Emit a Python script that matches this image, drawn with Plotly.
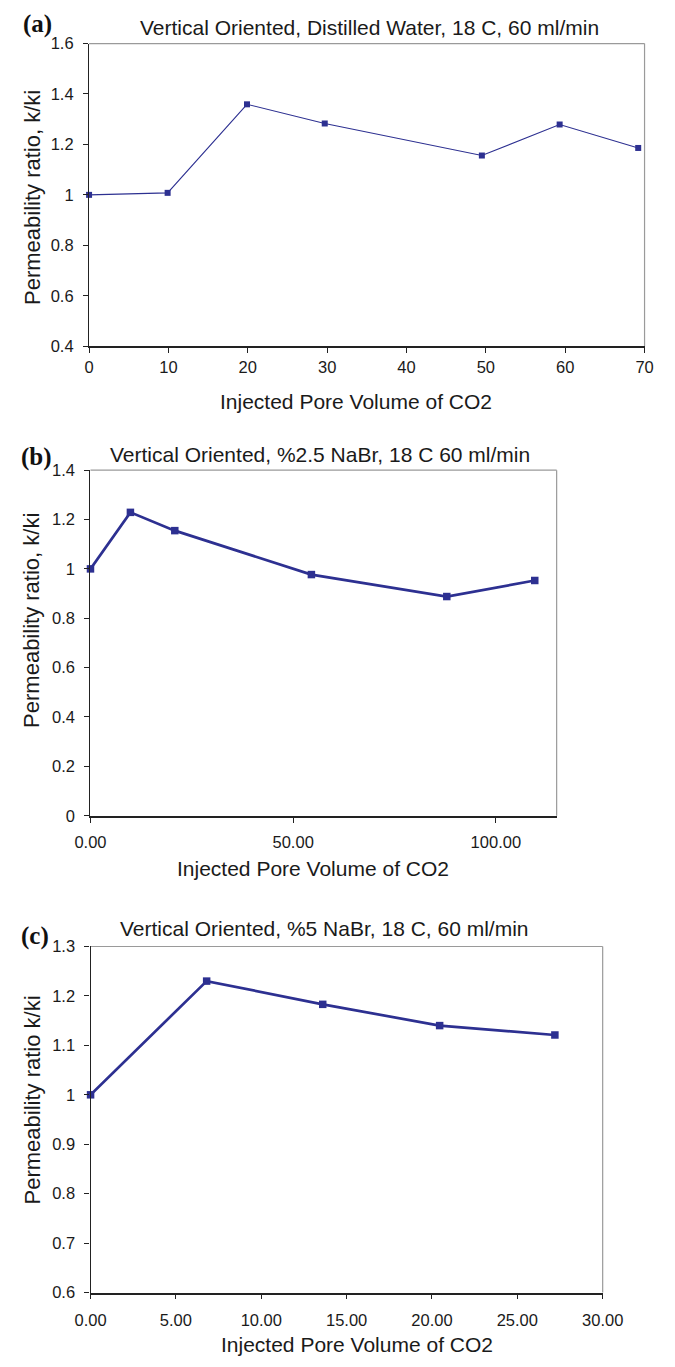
import plotly.graph_objects as go

# ---- data ----
a_x = [0, 9.9, 19.9, 29.7, 49.5, 59.3, 69.2]
a_y = [1.0, 1.008, 1.359, 1.283, 1.156, 1.279, 1.186]

b_x = [0, 9.85, 20.8, 54.5, 87.9, 109.6]
b_y = [1.0, 1.229, 1.155, 0.977, 0.888, 0.953]

c_x = [0, 6.8, 13.6, 20.45, 27.2]
c_y = [1.0, 1.230, 1.183, 1.140, 1.121]

a_yticks = [0.4, 0.6, 0.8, 1.0, 1.2, 1.4, 1.6]
a_ytext = ["0.4", "0.6", "0.8", "1", "1.2", "1.4", "1.6"]
a_xticks = [0, 10, 20, 30, 40, 50, 60, 70]
a_xtext = [str(v) for v in a_xticks]

b_yticks = [0, 0.2, 0.4, 0.6, 0.8, 1.0, 1.2, 1.4]
b_ytext = ["0", "0.2", "0.4", "0.6", "0.8", "1", "1.2", "1.4"]
b_xticks = [0, 50, 100]
b_xtext = ["0.00", "50.00", "100.00"]

c_yticks = [0.6, 0.7, 0.8, 0.9, 1.0, 1.1, 1.2, 1.3]
c_ytext = ["0.6", "0.7", "0.8", "0.9", "1", "1.1", "1.2", "1.3"]
c_xticks = [0, 5, 10, 15, 20, 25, 30]
c_xtext = ["0.00", "5.00", "10.00", "15.00", "20.00", "25.00", "30.00"]

titles = ["Vertical Oriented, Distilled Water, 18 C, 60 ml/min",
          "Vertical Oriented, %2.5 NaBr, 18 C 60 ml/min",
          "Vertical Oriented, %5 NaBr, 18 C, 60 ml/min"]
ytitles = ["Permeability ratio, k/ki", "Permeability ratio, k/ki", "Permeability ratio k/ki"]
xtitle = "Injected Pore Volume of CO2"
panel_labels = ["(a)", "(b)", "(c)"]

W, H = 675, 1367
COL = "#2D3091"
TXT = "#1a1a1a"
FONT = "Arial, Liberation Sans, sans-serif"
TICK_FS = 16.5
TITLE_FS = 21
XT_FS = 21
YT_FS = 22

# plot-area pixel boxes (left, right, top, bottom)
boxes = [(77.3, 665, 35, 341.7), (78.8, 572, 467.3, 817.5), (78.9, 620.7, 950, 1300.7)]
# text placement (pixels)
title_pos = [(374.5, 19), (322, 451), (326, 932)]
xtitle_pos = [(360, 397.5), (314, 870.5), (361, 1353.5)]
ytitle_pos = [(18, 191.5), (17, 620), (17, 1106)]
label_pos = [(5, 15.5), (3.5, 453.5), (3.5, 939.5)]
xlab_standoff = [0, 6, 7]

def px(v):
    return v / W

def py(v):
    return 1 - v / H

fig = go.Figure()
series = [(a_x, a_y, 1.1, 6), (b_x, b_y, 2.7, 7.5), (c_x, c_y, 2.7, 7.5)]
for i, (xs, ys, lw, ms) in enumerate(series):
    n = "" if i == 0 else str(i + 1)
    fig.add_trace(go.Scatter(x=xs, y=ys, mode="lines+markers",
                             line=dict(color=COL, width=lw),
                             marker=dict(symbol="square", size=ms, color=COL),
                             xaxis="x" + n, yaxis="y" + n, showlegend=False,
                             cliponaxis=False, hoverinfo="x+y"))

ranges = [((0, 70), (0.4, 1.6)), ((0, 115), (0, 1.4)), ((0, 30), (0.6, 1.3))]
xt = [(a_xticks, a_xtext), (b_xticks, b_xtext), (c_xticks, c_xtext)]
yt = [(a_yticks, a_ytext), (b_yticks, b_ytext), (c_yticks, c_ytext)]

layout = dict(width=W, height=H, margin=dict(l=0, r=0, t=0, b=0),
              paper_bgcolor="white", plot_bgcolor="white",
              font=dict(family=FONT, size=TICK_FS, color=TXT))
shapes = []
annotations = []
for i in range(3):
    n = "" if i == 0 else str(i + 1)
    l, r, t, b = boxes[i]
    layout["xaxis" + n] = dict(domain=[px(l), px(r)], anchor="y" + n, range=list(ranges[i][0]),
                               tickmode="array", tickvals=xt[i][0], ticktext=xt[i][1],
                               showline=True, linecolor="#222", linewidth=1.6,
                               ticks="outside", ticklen=5, tickcolor="#222", tickwidth=1,
                               ticklabelstandoff=xlab_standoff[i],
                               showgrid=False, zeroline=False, fixedrange=True,
                               tickfont=dict(family=FONT, size=TICK_FS, color=TXT))
    layout["yaxis" + n] = dict(domain=[py(b), py(t)], anchor="x" + n, range=list(ranges[i][1]),
                               tickmode="array", tickvals=yt[i][0], ticktext=yt[i][1],
                               showline=True, linecolor="#222", linewidth=1.4,
                               ticks="outside", ticklen=5, tickcolor="#222", tickwidth=1,
                               ticklabelstandoff=6,
                               showgrid=False, zeroline=False, fixedrange=True,
                               tickfont=dict(family=FONT, size=TICK_FS, color=TXT))
    xr = "x" + n + " domain"
    yr = "y" + n + " domain"
    shapes.append(dict(type="line", xref=xr, yref=yr, x0=0, x1=1, y0=1, y1=1,
                       line=dict(color="#9a9a9a", width=1.2), layer="below"))
    shapes.append(dict(type="line", xref=xr, yref=yr, x0=1, x1=1, y0=0, y1=1,
                       line=dict(color="#9a9a9a", width=1.2), layer="below"))
    annotations.append(dict(text=titles[i], x=px(title_pos[i][0]), y=py(title_pos[i][1]),
                            xref="paper", yref="paper",
                            showarrow=False, xanchor="center", yanchor="middle",
                            font=dict(family=FONT, size=TITLE_FS, color=TXT)))
    annotations.append(dict(text=xtitle, x=px(xtitle_pos[i][0]), y=py(xtitle_pos[i][1]),
                            xref="paper", yref="paper",
                            showarrow=False, xanchor="center", yanchor="middle",
                            font=dict(family=FONT, size=XT_FS, color=TXT)))
    annotations.append(dict(text=ytitles[i], x=px(ytitle_pos[i][0]), y=py(ytitle_pos[i][1]),
                            xref="paper", yref="paper",
                            showarrow=False, xanchor="center", yanchor="middle", textangle=-90,
                            font=dict(family=FONT, size=YT_FS, color=TXT)))
    annotations.append(dict(text="<b>" + panel_labels[i] + "</b>", x=px(label_pos[i][0]),
                            y=py(label_pos[i][1]),
                            xref="paper", yref="paper", showarrow=False,
                            xanchor="left", yanchor="middle",
                            font=dict(family="Liberation Serif, Times New Roman, serif",
                                      size=25, color="#111")))

layout["shapes"] = shapes
layout["annotations"] = annotations
fig.update_layout(**layout)
fig.write_html("out.html", config={"displayModeBar": False},
               post_script="document.body.style.margin='0';document.body.style.padding='0';")
